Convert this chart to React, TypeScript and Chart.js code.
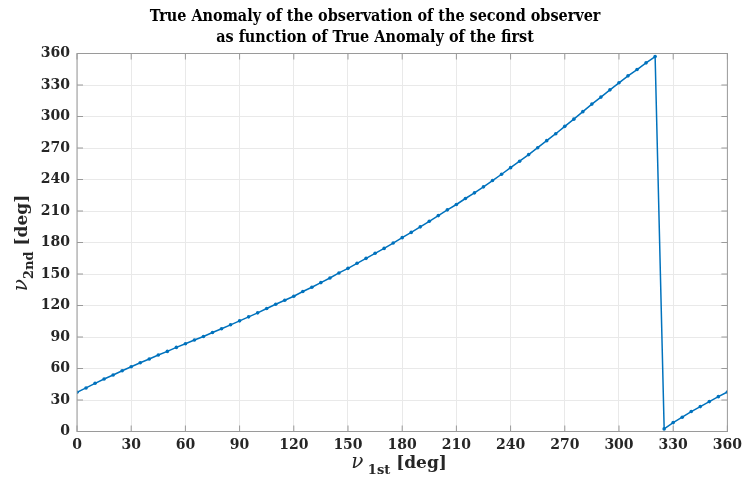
import React, { useEffect, useRef } from "react";
import { Chart, registerables } from "chart.js";

Chart.register(...registerables);

// True anomaly of the first observer [deg]
const nu1: number[] = [
  0, 5, 10, 15, 20, 25, 30, 35, 40, 45, 50, 55, 60, 65, 70, 75, 80, 85, 90, 95,
  100, 105, 110, 115, 120, 125, 130, 135, 140, 145, 150, 155, 160, 165, 170, 175,
  180, 185, 190, 195, 200, 205, 210, 215, 220, 225, 230, 235, 240, 245, 250, 255,
  260, 265, 270, 275, 280, 285, 290, 295, 300, 305, 310, 315, 320, 325, 330, 335,
  340, 345, 350, 355, 360,
];

// True anomaly of the second observer [deg]
const nu2: number[] = [
  37.4, 41.5, 45.9, 50.0, 53.8, 57.9, 61.7, 65.5, 69.0, 72.8, 76.3, 80.1, 83.6,
  87.1, 90.5, 94.3, 97.8, 101.6, 105.4, 109.2, 113.0, 117.1, 121.2, 125.0, 128.8,
  133.3, 137.4, 141.8, 146.2, 151.0, 155.4, 160.2, 164.9, 169.7, 174.4, 179.5,
  184.6, 189.6, 194.9, 200.2, 205.6, 211.1, 216.2, 221.9, 227.3, 233.0, 239.0,
  245.0, 251.3, 257.4, 263.7, 270.3, 277.0, 283.6, 290.6, 297.5, 304.6, 311.8,
  318.5, 325.4, 332.1, 338.7, 344.7, 351.1, 357.1, 2.5, 8.5, 13.6, 19.0, 23.7,
  28.5, 33.2, 37.6,
];

const xTicks: number[] = [0, 30, 60, 90, 120, 150, 180, 210, 240, 270, 300, 330, 360];
const yTicks: number[] = [0, 30, 60, 90, 120, 150, 180, 210, 240, 270, 300, 330, 360];

const titleLines: string[] = [
  "True Anomaly of the observation of the second observer",
  "as function of True Anomaly of the first",
];

const LINE_COLOR = "#0072BD";
const TEXT_COLOR = "#262626";
const AXIS_COLOR = "#9a9a9a";
const GRID_COLOR = "#e9e9e9";
const SERIF = "'DejaVu Serif', 'Liberation Serif', serif";

type Part = { text: string; font: string; dy: number };

function drawParts(ctx: CanvasRenderingContext2D, parts: Part[], cx: number, cy: number) {
  let total = 0;
  const widths = parts.map((p) => {
    ctx.font = p.font;
    const w = ctx.measureText(p.text).width;
    total += w;
    return w;
  });
  let x = cx - total / 2;
  parts.forEach((p, i) => {
    ctx.font = p.font;
    ctx.textAlign = "left";
    ctx.textBaseline = "alphabetic";
    ctx.fillText(p.text, x, cy + p.dy);
    x += widths[i];
  });
}

const framePlugin = {
  id: "matlabFrame",
  afterDraw(chart: any) {
    const { ctx, chartArea } = chart;
    const { left, right, top, bottom } = chartArea;
    const xs = chart.scales.x;
    const ys = chart.scales.y;
    ctx.save();
    // box
    ctx.strokeStyle = AXIS_COLOR;
    ctx.lineWidth = 1;
    ctx.strokeRect(left, top, right - left, bottom - top);
    // inward ticks
    const tl = 6;
    ctx.beginPath();
    xTicks.forEach((v) => {
      const px = xs.getPixelForValue(v);
      ctx.moveTo(px, bottom);
      ctx.lineTo(px, bottom - tl);
      ctx.moveTo(px, top);
      ctx.lineTo(px, top + tl);
    });
    yTicks.forEach((v) => {
      const py = ys.getPixelForValue(v);
      ctx.moveTo(left, py);
      ctx.lineTo(left + tl, py);
      ctx.moveTo(right, py);
      ctx.lineTo(right - tl, py);
    });
    ctx.stroke();

    // title
    ctx.fillStyle = "#000000";
    ctx.textAlign = "center";
    ctx.textBaseline = "middle";
    ctx.font = `bold 16px 'DejaVu Serif Condensed', ${SERIF}`;
    ctx.fillText(titleLines[0], 375, 17);
    ctx.fillText(titleLines[1], 375, 38);

    // x label
    ctx.fillStyle = TEXT_COLOR;
    drawParts(
      ctx,
      [
        { text: "ν", font: `italic 20px ${SERIF}`, dy: 0 },
        { text: " 1st", font: `bold 13px ${SERIF}`, dy: 6 },
        { text: " [deg]", font: `bold 17px ${SERIF}`, dy: 0 },
      ],
      399,
      468
    );

    // y label
    ctx.save();
    ctx.translate(27, 243);
    ctx.rotate(-Math.PI / 2);
    drawParts(
      ctx,
      [
        { text: "ν", font: `italic 20px ${SERIF}`, dy: 0 },
        { text: "2nd", font: `bold 13px ${SERIF}`, dy: 6 },
        { text: " [deg]", font: `bold 17px ${SERIF}`, dy: 0 },
      ],
      0,
      0
    );
    ctx.restore();
    ctx.restore();
  },
};

export default function App() {
  const ref = useRef<HTMLCanvasElement | null>(null);

  useEffect(() => {
    if (!ref.current) return;
    const tickFont = { family: SERIF, size: 14, weight: "bold" as const };
    const chart = new Chart(ref.current, {
      type: "line",
      data: {
        datasets: [
          {
            data: nu1.map((x, i) => ({ x, y: nu2[i] })),
            borderColor: LINE_COLOR,
            backgroundColor: LINE_COLOR,
            borderWidth: 1.5,
            pointRadius: 1.8,
            pointBorderWidth: 0,
            pointBackgroundColor: LINE_COLOR,
            pointStyle: "circle",
            tension: 0,
            fill: false,
          },
        ],
      },
      options: {
        responsive: false,
        animation: false,
        events: [],
        layout: { padding: { top: 53.5, right: 16, left: 0, bottom: 0 } },
        plugins: {
          legend: { display: false },
          title: { display: false },
          tooltip: { enabled: false },
        },
        scales: {
          x: {
            type: "linear",
            min: 0,
            max: 360,
            afterBuildTicks: (s: any) => {
              s.ticks = xTicks.map((v) => ({ value: v }));
            },
            afterFit: (s: any) => {
              s.height = 45.5;
            },
            grid: { color: GRID_COLOR, drawTicks: false, lineWidth: 1 },
            border: { display: false },
            ticks: {
              font: tickFont,
              color: TEXT_COLOR,
              padding: 5,
              maxRotation: 0,
              autoSkip: false,
            },
          },
          y: {
            type: "linear",
            min: 0,
            max: 360,
            afterBuildTicks: (s: any) => {
              s.ticks = yTicks.map((v) => ({ value: v }));
            },
            afterFit: (s: any) => {
              s.width = 77;
            },
            grid: { color: GRID_COLOR, drawTicks: false, lineWidth: 1 },
            border: { display: false },
            ticks: {
              font: tickFont,
              color: TEXT_COLOR,
              padding: 7,
              autoSkip: false,
            },
          },
        },
      },
      plugins: [framePlugin],
    });
    return () => chart.destroy();
  }, []);

  return (
    <div style={{ position: "fixed", left: 0, top: 0, width: 747, height: 477, background: "#fff" }}>
      <canvas ref={ref} width={747} height={477} style={{ display: "block" }} />
    </div>
  );
}
